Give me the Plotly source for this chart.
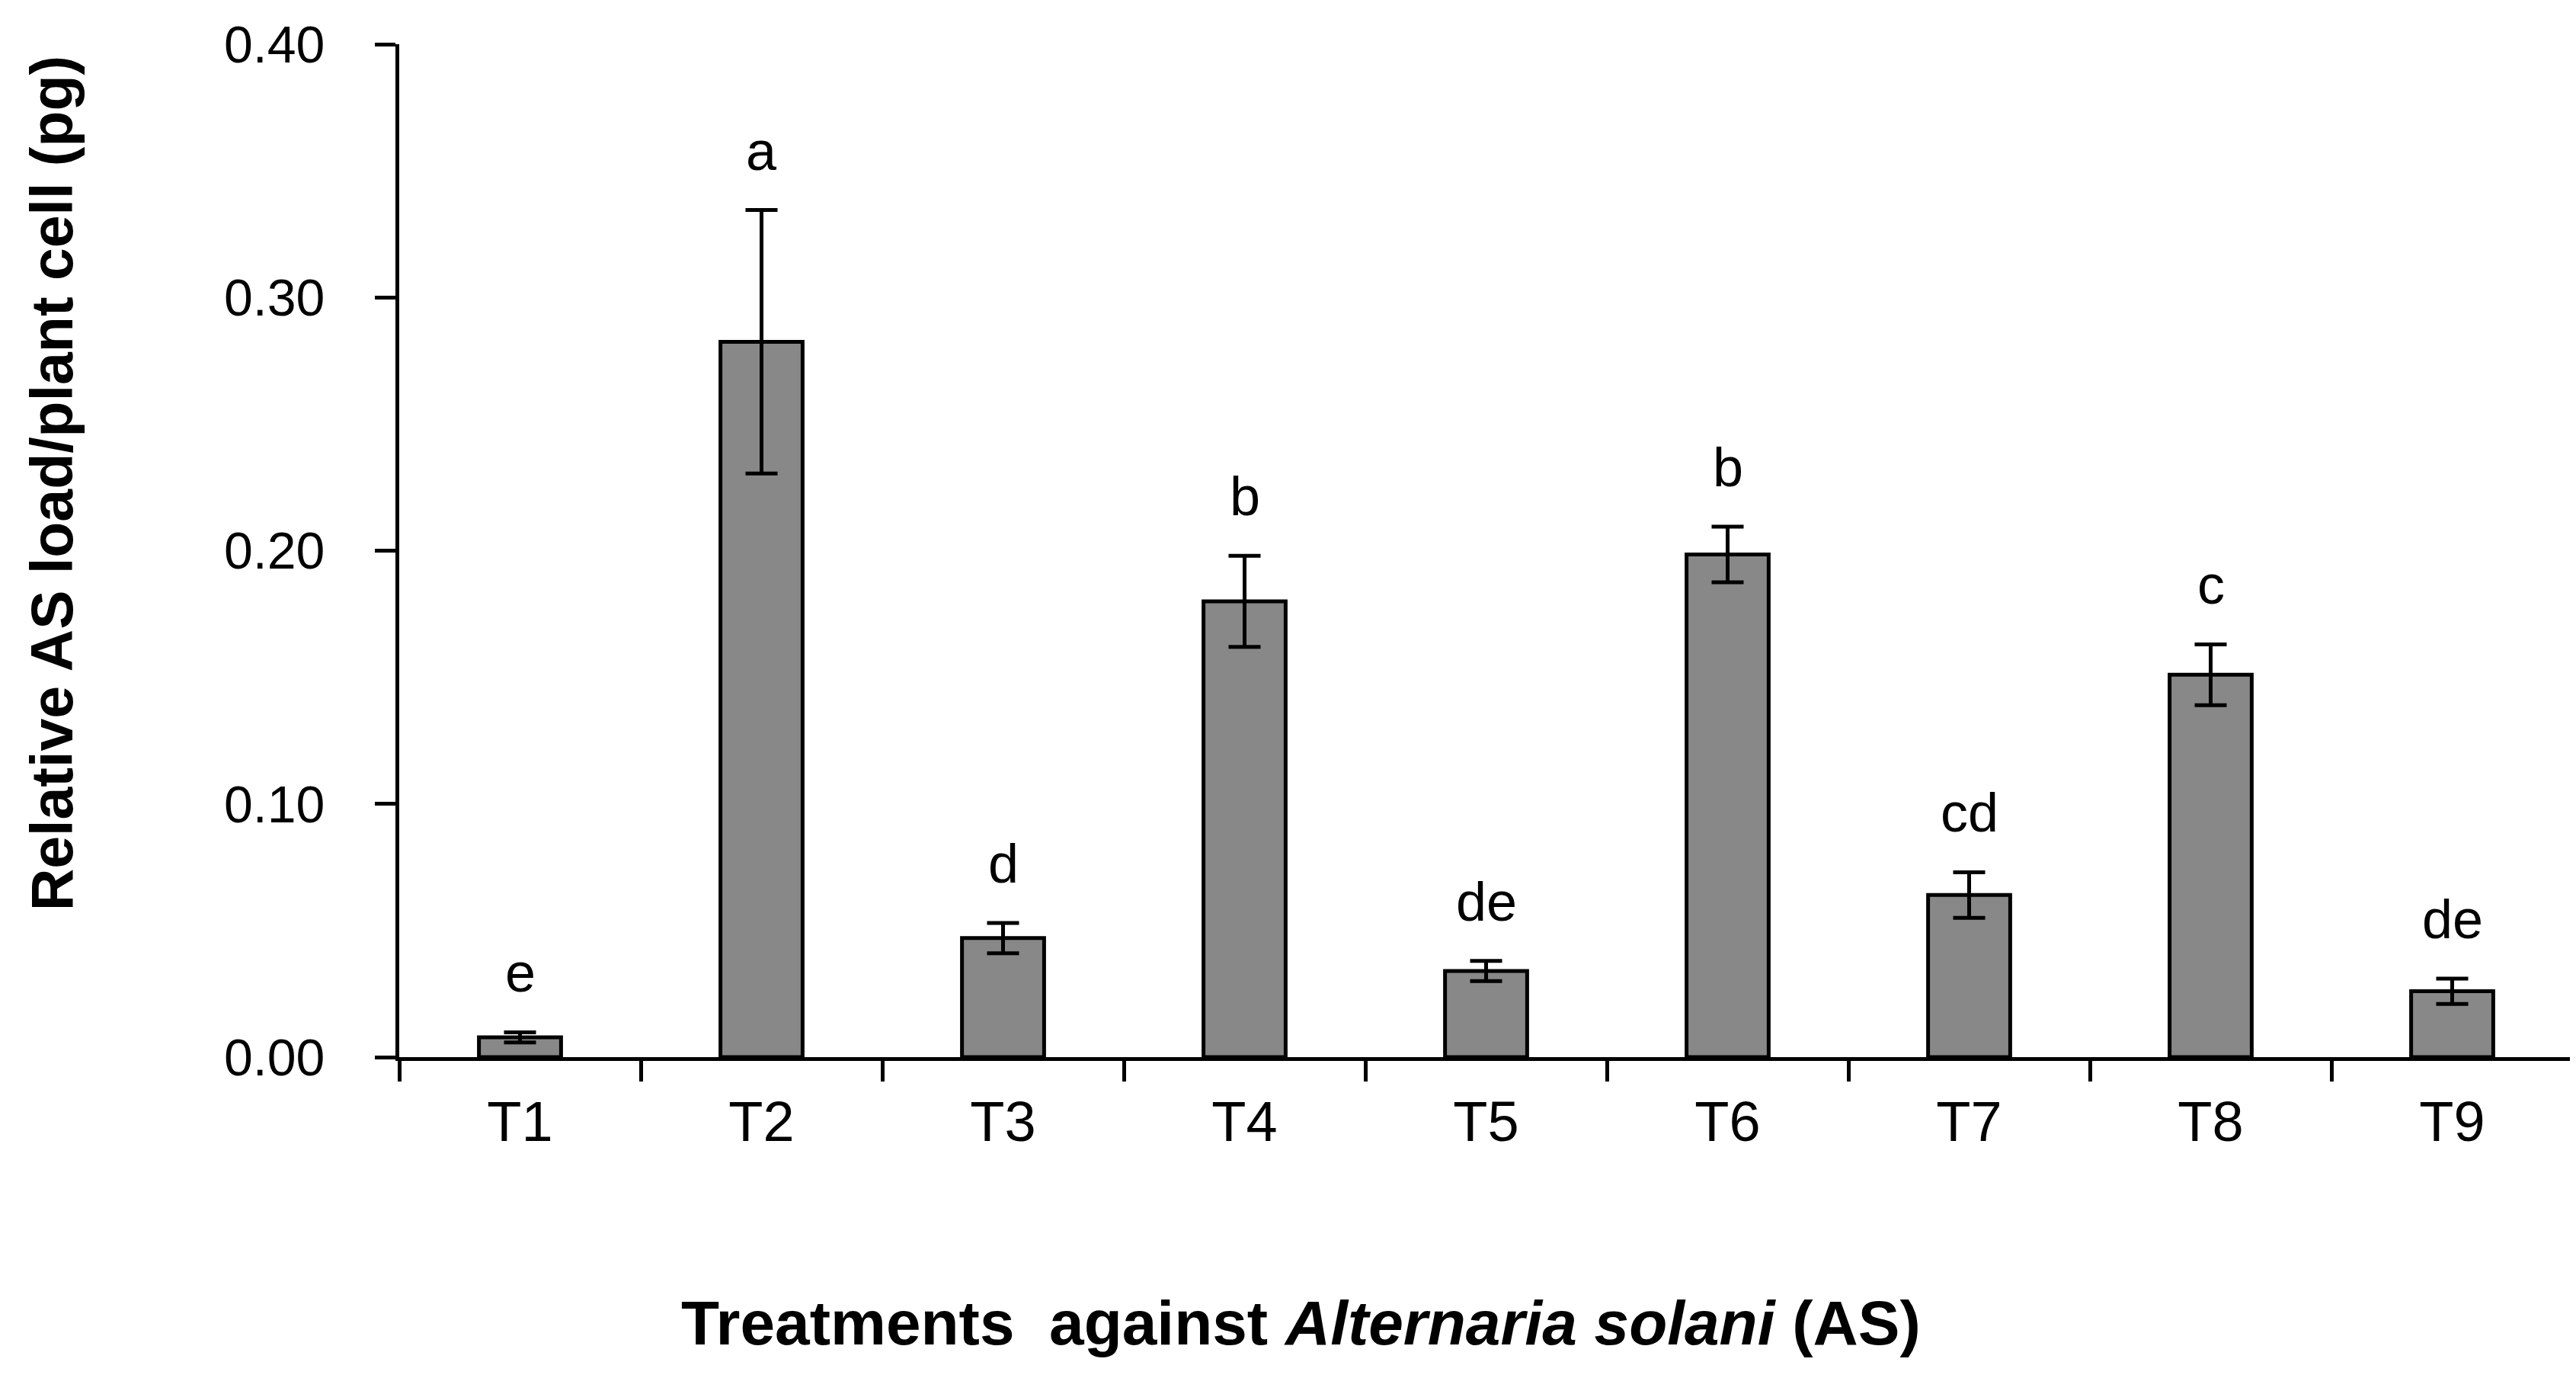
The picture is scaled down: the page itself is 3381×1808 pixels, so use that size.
import plotly.graph_objects as go

# Data
treatments = ["T1", "T2", "T3", "T4", "T5", "T6", "T7", "T8", "T9"]
as_load = [0.0078, 0.2825, 0.047, 0.180, 0.034, 0.1985, 0.064, 0.151, 0.026]
as_load_err = [0.002, 0.052, 0.006, 0.018, 0.004, 0.011, 0.009, 0.012, 0.005]
group_letters = ["e", "a", "d", "b", "de", "b", "cd", "c", "de"]

y_ticks = [0.0, 0.1, 0.2, 0.3, 0.4]

# no narrow face is installed, so plain Liberation Sans sized to the reference widths
sans = "Liberation Sans, Arial, sans-serif"
bar_fill = "#888888"
ink = "#000000"

fig = go.Figure()

fig.add_trace(go.Bar(
    x=treatments,
    y=as_load,
    width=0.34,
    marker=dict(color=bar_fill, line=dict(color=ink, width=5)),
    error_y=dict(type="data", array=as_load_err, visible=True,
                 color=ink, thickness=5, width=21),
    showlegend=False,
))

# significance letters above each error bar
for t, v, e, lab in zip(treatments, as_load, as_load_err, group_letters):
    fig.add_annotation(
        x=t, y=v + e, text=lab, showarrow=False,
        xref="x", yref="y", yanchor="bottom", yshift=36,
        font=dict(family=sans, size=72, color=ink),
    )

# axis titles (placed like the original, centred on the figure rather than the plot)
fig.add_annotation(
    text="Treatments\u00a0\u00a0against <i>Alternaria solani</i> (AS)",
    xref="paper", yref="paper", x=0.415, y=-0.262,
    xanchor="center", yanchor="middle", showarrow=False,
    font=dict(family=sans, size=82, color=ink, weight="bold"),
)
fig.add_annotation(
    text="Relative AS load/plant cell (pg)",
    xref="paper", yref="paper", x=-0.16, y=0.566, textangle=-90,
    xanchor="center", yanchor="middle", showarrow=False,
    font=dict(family=sans, size=77, color=ink, weight="bold"),
)

fig.update_layout(
    width=3381,
    height=1808,
    paper_bgcolor="white",
    plot_bgcolor="white",
    margin=dict(l=516, r=12, t=47, b=429),
    font=dict(family=sans, color=ink),
)

fig.update_xaxes(
    showline=True, linecolor=ink, linewidth=5,
    ticks="outside", tickson="boundaries", ticklen=27, tickwidth=5, tickcolor=ink,
    tickfont=dict(family=sans, size=74, color=ink),
    ticklabelstandoff=16,
    showgrid=False, zeroline=False,
)
fig.update_yaxes(
    range=[0, 0.4], tickvals=y_ticks, tickformat=".2f",
    showline=True, linecolor=ink, linewidth=5,
    ticks="outside", ticklen=27, tickwidth=5, tickcolor=ink,
    tickfont=dict(family=sans, size=68, color=ink),
    ticklabelstandoff=52,
    showgrid=False, zeroline=False,
)

fig.write_html("out.html")
